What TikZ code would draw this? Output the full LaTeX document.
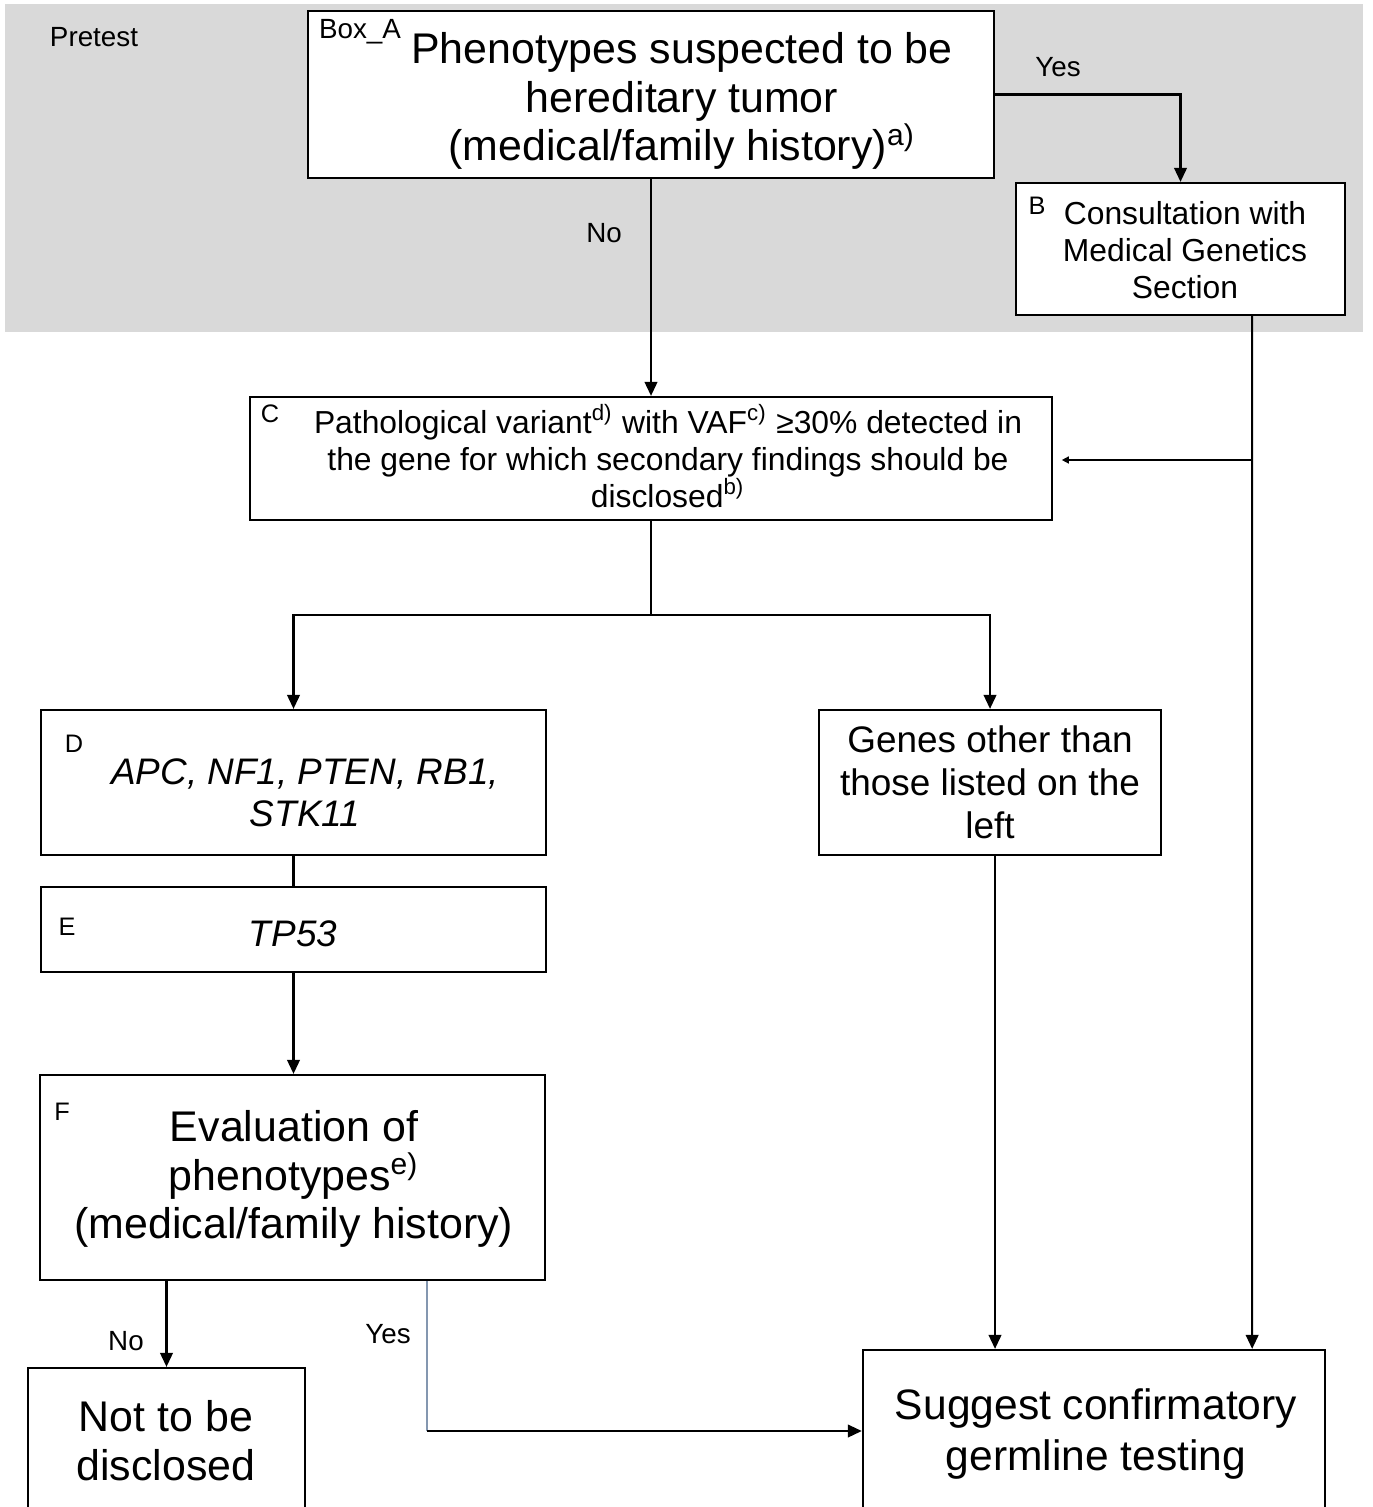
\documentclass[tikz,border=0pt]{standalone}
\usepackage{fontspec}
\setmainfont{Liberation Sans}
\usepackage{tikz}
\usetikzlibrary{arrows.meta,positioning,calc}
\definecolor{pretestgray}{HTML}{D9D9D9}
\definecolor{slate}{HTML}{8497B0}

\begin{document}
\begin{tikzpicture}[x=0.01cm,y=-0.01cm,
  box/.style={draw=black,line width=0.6pt,fill=white,inner sep=0pt},
  tag/.style={inner sep=0pt,font=\fontsize{7.2pt}{8.5pt}\selectfont},
  small/.style={inner sep=0pt,font=\fontsize{7.9pt}{9.5pt}\selectfont},
  big/.style={inner sep=0pt,align=center,font=\fontsize{12.2pt}{13.9pt}\selectfont},
  mid/.style={inner sep=0pt,align=center,font=\fontsize{10.5pt}{12pt}\selectfont},
  note/.style={inner sep=0pt,align=center,font=\fontsize{9.05pt}{10.5pt}\selectfont},
  link/.style={line width=0.6pt},
  arr/.style={link,-{Triangle[length=4pt,width=3.6pt]}},
  smallarr/.style={line width=0.4pt,-{Triangle[length=2pt,width=2pt]}}]
  \useasboundingbox (0,0) rectangle (1372,1507);
  \fill[white] (0,0) rectangle (1372,1507);
  \fill[pretestgray] (5,4) rectangle (1363,332);
  \node[small] (pretest) at (94,37) {Pretest};

  \node[box,minimum width=6.86cm,minimum height=1.67cm] (boxA) at (651,94.5) {};
  \node[big] (txtA) at (682,101) {Phenotypes suspected to be\\hereditary tumor\\(medical/family history)\textsuperscript{a)}};
  \node[small] (tagA) at (360,32) {Box\_A};

  \node[box,minimum width=3.29cm,minimum height=1.32cm] (boxB) at (1180.5,249) {};
  \node[note] (txtB) at (1185,250) {Consultation with\\Medical Genetics\\Section};
  \node[tag] (tagB) at (1037,206) {B};

  \node[box,minimum width=8.01cm,minimum height=1.23cm] (boxC) at (651,458.5) {};
  \node[note] (txtC) at (668,456) {Pathological variant\textsuperscript{d)} with VAF\textsuperscript{c)} ≥30\% detected in\\the gene for which secondary findings should be\\disclosed\textsuperscript{b)}};
  \node[tag] (tagC) at (270,414) {C};

  \node[box,minimum width=5.05cm,minimum height=1.45cm] (boxD) at (293.5,782.5) {};
  \node[mid] (txtD) at (305,793) {\itshape APC, NF1, PTEN, RB1,\\\itshape STK11};
  \node[tag] (tagD) at (74,744) {D};

  \node[box,minimum width=5.05cm,minimum height=0.85cm] (boxE) at (293.5,929.5) {};
  \node[mid] (txtE) at (293,934) {\itshape TP53};
  \node[tag] (tagE) at (67,927) {E};

  \node[box,minimum width=5.05cm,minimum height=2.05cm] (boxF) at (292.5,1177.5) {};
  \node[big] (txtF) at (294,1179) {Evaluation of\\phenotypes\textsuperscript{e)}\\(medical/family history)};
  \node[tag] (tagF) at (62,1112) {F};

  \node[box,mid,minimum width=3.42cm,minimum height=1.45cm,font=\fontsize{10.5pt}{12.2pt}\selectfont] (boxG) at (990,782.5) {Genes other than\\those listed on the\\left};

  \node[box,minimum width=2.77cm,minimum height=1.92cm] (boxN) at (166.5,1464) {};
  \node[big] (txtN) at (166,1441) {Not to be\\disclosed};

  \node[box,minimum width=4.62cm,minimum height=2.10cm] (boxS) at (1094,1455) {};
  \node[big,font=\fontsize{12.1pt}{14.5pt}\selectfont] (txtS) at (1096,1434) {Suggest confirmatory\\germline testing};

  \draw[arr] (boxA.east) -| (boxB.north);
  \node[small] (yesA) at (1058,67) {Yes};
  \draw[arr] (boxA.south) -- (boxA.south |- boxC.north);
  \node[small] (noA) at (604,233) {No};

  \coordinate (cjoin) at (1251,460);
  \draw[arr] ([xshift=-0.94cm]boxB.south east) -- ([xshift=-0.74cm]boxS.north east);
  \draw[smallarr] (cjoin) -- ([xshift=0.09cm]boxC.east |- cjoin);

  \coordinate (split) at (651,615);
  \draw[link] (boxC.south) -- (split);
  \draw[arr] (split) -| (boxD.north);
  \draw[arr] (split) -| (boxG.north);
  \draw[link] (boxD.south) -- (boxE.north);
  \draw[arr] (boxE.south) -- (boxE.south |- boxF.north);

  \draw[arr] ([xshift=0.05cm]boxG.south) -- ([xshift=0.05cm]boxG.south |- boxS.north);

  \draw[arr] (boxF.south -| boxN.north) -- (boxN.north);
  \node[small] (noF) at (126,1341) {No};

  \coordinate (yescorner) at (427,1431);
  \draw[slate,line width=0.4pt] (boxF.south -| yescorner) -- (yescorner);
  \draw[arr] (yescorner) -- (yescorner -| boxS.west);
  \node[small] (yesF) at (388,1334) {Yes};
\end{tikzpicture}
\end{document}
